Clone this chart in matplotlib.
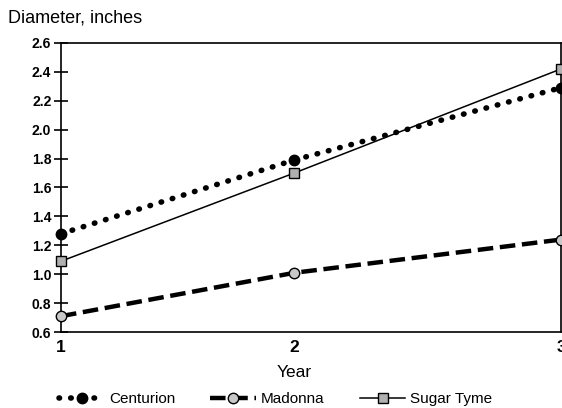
import numpy as np
import matplotlib.pyplot as plt

plt.rcParams['font.family'] = ['Liberation Sans', 'DejaVu Sans']

years = [1, 2, 3]
centurion = [1.28, 1.79, 2.29]
madonna = [0.71, 1.01, 1.24]
sugar_tyme = [1.09, 1.70, 2.42]
yticks = [0.6, 0.8, 1.0, 1.2, 1.4, 1.6, 1.8, 2.0, 2.2, 2.4, 2.6]


# the original axis is slightly stretched toward the right
def fwd(x):
    d = np.asarray(x, dtype=float) - 1
    return np.sign(d) * np.abs(d) ** 1.1


def inv(y):
    y = np.asarray(y, dtype=float)
    return np.sign(y) * np.abs(y) ** (1 / 1.1) + 1


fig = plt.figure(figsize=(5.62, 4.08), dpi=100)
ax = fig.add_axes([0.1085, 0.186, 0.89, 0.709])
ax.set_xscale('function', functions=(fwd, inv))

ax.plot(years, centurion, color='black', linestyle=(0, (0.1, 2.0)), linewidth=4,
        dash_capstyle='round', marker='o', markersize=7.5, markerfacecolor='black',
        clip_on=False, label='Centurion', zorder=3)
ax.plot(years, madonna, color='black', linestyle=(0, (3.5, 1.5)), linewidth=3.2,
        marker='o', markersize=7.5, markerfacecolor='#c8c8c8', markeredgewidth=1,
        clip_on=False, label='Madonna', zorder=3)
ax.plot(years, sugar_tyme, color='black', linestyle='-', linewidth=1.1,
        marker='s', markersize=6.5, markerfacecolor='#b0b0b0', markeredgewidth=1,
        clip_on=False, label='Sugar Tyme', zorder=3)

ax.set_xlim(1, 3)
ax.set_ylim(0.6, 2.6)
ax.set_xticks(years)
ax.set_xticklabels([str(y) for y in years], fontsize=12.5, fontweight='bold')
ax.set_xticks([], minor=True)
ax.set_yticks(yticks)
ax.set_yticklabels([f'{v:.1f}' for v in yticks], fontsize=10, fontweight='bold')
ax.tick_params(axis='y', direction='inout', length=10, width=1.2, pad=2)
ax.tick_params(axis='x', length=0, pad=6)
for s in ax.spines.values():
    s.set_linewidth(1.2)

ax.set_xlabel('Year', fontsize=12.5)
ax.xaxis.set_label_coords(fwd(2) / fwd(3), -0.115)
fig.text(0.014, 0.955, 'Diameter, inches', fontsize=13, ha='left', va='center')

fig.legend(loc='center', bbox_to_anchor=(0.49, 0.022), ncol=3, frameon=False,
           fontsize=11, columnspacing=2.3, handlelength=3.0, handletextpad=0.3)

fig.savefig('out.png', dpi=100)
